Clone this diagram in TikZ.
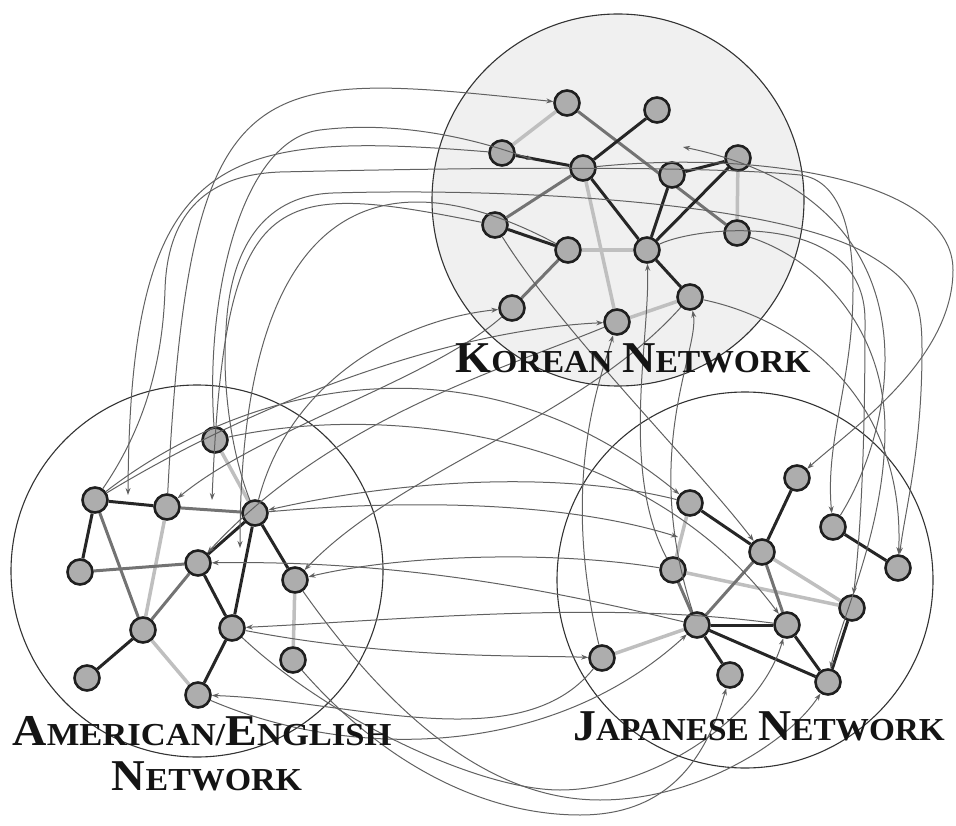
\documentclass[tikz,border=0pt]{standalone}
\usepackage{fontspec}
\setmainfont{Liberation Serif}
\usetikzlibrary{arrows.meta,backgrounds}
\newcommand{\bigini}[1]{{\fontsize{44}{44}\selectfont #1}}
\tikzset{
  nd/.style={circle, draw=black!88, line width=2.6pt, fill=black!32, minimum size=25pt, inner sep=0pt},
  dk/.style={line width=3pt, draw=black!85},
  md/.style={line width=3pt, draw=black!55},
  lt/.style={line width=3.5pt, draw=black!25},
  link/.style={line width=1pt, draw=black!62, -{Stealth[length=7pt,width=5pt]}},
  netc/.style={draw=black!80, line width=1.1pt},
  lab/.style={anchor=base, inner sep=0pt, text=black!92, font=\fontsize{32}{32}\selectfont\bfseries}
}
\begin{document}
\begin{tikzpicture}[x=1pt,y=-1pt]
\useasboundingbox (0,0) rectangle (956,826);
% ---------- Korean nodes
\node[nd] (k1) at (567,103) {};
\node[nd] (k2) at (657,110) {};
\node[nd] (k3) at (502,153) {};
\node[nd] (k4) at (583,168) {};
\node[nd] (k5) at (672,175) {};
\node[nd] (k6) at (738,158) {};
\node[nd] (k7) at (495,225) {};
\node[nd] (k8) at (568,250) {};
\node[nd] (k9) at (647,250) {};
\node[nd] (k10) at (737,233) {};
\node[nd] (k11) at (690,297) {};
\node[nd] (k12) at (512,308) {};
\node[nd] (k13) at (617,322) {};
% ---------- American nodes
\node[nd] (a1) at (215,440) {};
\node[nd] (a2) at (95,500) {};
\node[nd] (a3) at (167,507) {};
\node[nd] (a4) at (255,513) {};
\node[nd] (a5) at (80,572) {};
\node[nd] (a6) at (198,563) {};
\node[nd] (a7) at (295,580) {};
\node[nd] (a8) at (143,630) {};
\node[nd] (a9) at (232,628) {};
\node[nd] (a10) at (293,660) {};
\node[nd] (a11) at (87,678) {};
\node[nd] (a12) at (198,695) {};
% ---------- Japanese nodes
\node[nd] (j1) at (797,478) {};
\node[nd] (j2) at (690,503) {};
\node[nd] (j3) at (833,527) {};
\node[nd] (j4) at (762,552) {};
\node[nd] (j5) at (898,568) {};
\node[nd] (j6) at (673,570) {};
\node[nd] (j7) at (852,608) {};
\node[nd] (j8) at (697,625) {};
\node[nd] (j9) at (787,625) {};
\node[nd] (j10) at (602,658) {};
\node[nd] (j11) at (730,675) {};
\node[nd] (j12) at (828,682) {};
% ---------- arrow end points
\coordinate (t1) at (128,495);
\coordinate (t2) at (161,540);
\coordinate (t3) at (212,500);
\coordinate (t4) at (240,548);
\coordinate (t5) at (678,537);
\coordinate (t6) at (533,160);
\coordinate (t7) at (683,147);

\begin{scope}[on background layer]
  % network circles
  \node[circle, netc, fill=black!6, minimum size=372pt, inner sep=0pt] (kor) at (618,200) {};
  \node[circle, netc, minimum size=372pt, inner sep=0pt] (ame) at (197,571) {};
  \node[circle, netc, minimum size=376pt, inner sep=0pt] (jap) at (745,580) {};
  % Korean edges
  \draw[lt] (k3) -- (k1);
  \draw[lt] (k4) -- (k13);
  \draw[lt] (k8) -- (k9);
  \draw[lt] (k6) -- (k10);
  \draw[lt] (k13) -- (k11);
  \draw[md] (k1) -- (k10);
  \draw[md] (k4) -- (k7);
  \draw[md] (k8) -- (k12);
  \draw[dk] (k3) -- (k4);
  \draw[dk] (k4) -- (k2);
  \draw[dk] (k7) -- (k8);
  \draw[dk] (k9) -- (k5);
  \draw[dk] (k9) -- (k6);
  \draw[dk] (k5) -- (k6);
  \draw[dk] (k9) -- (k11);
  \draw[dk] (k4) -- (k9);
  % American edges
  \draw[lt] (a1) -- (a4);
  \draw[lt] (a3) -- (a8);
  \draw[lt] (a8) -- (a12);
  \draw[lt] (a7) -- (a10);
  \draw[md] (a3) -- (a4);
  \draw[md] (a5) -- (a6);
  \draw[md] (a2) -- (a8);
  \draw[md] (a6) -- (a8);
  \draw[dk] (a2) -- (a3);
  \draw[dk] (a2) -- (a5);
  \draw[dk] (a4) -- (a6);
  \draw[dk] (a4) -- (a7);
  \draw[dk] (a4) -- (a9);
  \draw[dk] (a6) -- (a9);
  \draw[dk] (a8) -- (a11);
  \draw[dk] (a9) -- (a12);
  % Japanese edges
  \draw[lt] (j4) -- (j7);
  \draw[lt] (j6) -- (j7);
  \draw[lt] (j2) -- (j6);
  \draw[lt] (j10) -- (j8);
  \draw[md] (j6) -- (j8);
  \draw[md] (j8) -- (j4);
  \draw[md] (j4) -- (j9);
  \draw[dk] (j2) -- (j4);
  \draw[dk] (j4) -- (j1);
  \draw[dk] (j3) -- (j5);
  \draw[dk] (j8) -- (j9);
  \draw[dk] (j8) -- (j11);
  \draw[dk] (j8) -- (j12);
  \draw[dk] (j9) -- (j12);
  \draw[dk] (j7) -- (j12);
\end{scope}

% ---------- links: Korean <-> American (left loops)
\draw[link] (k3) .. controls (220,130) and (130,150) .. (t1);
\draw[link] (a3) .. controls (190,60) and (250,70) .. (k1);
\draw[link] (k7) .. controls (270,180) and (225,185) .. (t3);
\draw[link] (k8) .. controls (380,150) and (240,200) .. (t4);
\draw[link] (a4) .. controls (290,380) and (400,320) .. (k12);
\draw[link] (a1) .. controls (205,300) and (240,140) .. (320,130) .. controls (400,120) and (480,140) .. (t6);
% long loops American -> Korea -> Japan
\draw[link] (a4) .. controls (230,450) and (222,380) .. (226,330) .. controls (230,240) and (270,195) .. (333,193) .. controls (500,188) and (760,200) .. (860,250) .. controls (915,280) and (922,300) .. (922,350) .. controls (922,450) and (905,510) .. (j5);
\draw[link] (a2) .. controls (150,420) and (163,350) .. (165,290) .. controls (167,220) and (200,175) .. (280,172) .. controls (450,168) and (700,165) .. (800,175) .. controls (840,180) and (853,230) .. (853,290) .. controls (853,380) and (825,440) .. (j3);
% Korean -> Japanese (right loops)
\draw[link] (k4) .. controls (760,150) and (953,180) .. (953,270) .. controls (953,360) and (850,430) .. (j1);
\draw[link] (k9) .. controls (700,225) and (865,210) .. (865,320) .. controls (865,430) and (862,520) .. (j7);
\draw[link] (k10) .. controls (820,260) and (885,330) .. (885,430) .. controls (885,530) and (840,620) .. (j12);
\draw[link] (k11) .. controls (800,320) and (905,400) .. (j5);
\draw[link] (j3) .. controls (900,420) and (940,200) .. (t7);
% American <-> Japanese (middle)
\draw[link] (j2) .. controls (560,470) and (400,480) .. (a4);
\draw[link] (a4) .. controls (400,500) and (560,500) .. (t5);
\draw[link] (j6) .. controls (550,550) and (400,555) .. (a7);
\draw[link] (j8) .. controls (550,590) and (400,560) .. (a6);
\draw[link] (a9) .. controls (400,660) and (530,655) .. (j10);
\draw[link] (j9) .. controls (600,600) and (400,620) .. (a9);
\draw[link] (a2) .. controls (250,380) and (480,330) .. (j2);
\draw[link] (a2) .. controls (260,400) and (450,330) .. (k13);
% bottom loops
\draw[link] (a10) .. controls (380,760) and (480,815) .. (580,815) .. controls (650,815) and (700,780) .. (j11);
\draw[link] (a7) .. controls (380,700) and (480,800) .. (600,800) .. controls (700,800) and (790,740) .. (j12);
\draw[link] (a9) .. controls (330,720) and (480,790) .. (560,790) .. controls (650,790) and (760,720) .. (j9);
\draw[link] (a12) .. controls (350,760) and (550,760) .. (j8);
\draw[link] (j10) .. controls (520,760) and (350,700) .. (a12);
% Japanese -> Korean (upward)
\draw[link] (j6) .. controls (620,470) and (650,340) .. (k9);
\draw[link] (j8) .. controls (640,450) and (700,350) .. (k11);
\draw[link] (j10) .. controls (560,480) and (600,380) .. (k13);
% Korean -> American (diagonal)
\draw[link] (k13) .. controls (500,370) and (330,420) .. (a6);
\draw[link] (k11) .. controls (580,420) and (400,470) .. (a7);
\draw[link] (k12) .. controls (430,380) and (260,430) .. (a3);
% across to Japanese
\draw[link] (k7) .. controls (560,330) and (700,470) .. (j4);
\draw[link] (a1) .. controls (400,400) and (650,440) .. (j9);

% ---------- labels
\node[lab] (klab) at (633,372) {\scalebox{1.05}[1]{\bigini{K}OREAN\hspace{9pt}\bigini{N}ETWORK}};
\node[lab] (alab1) at (202,745) {\scalebox{1.08}[1]{\bigini{A}MERICAN/\bigini{E}NGLISH}};
\node[lab] (alab2) at (207,790) {\scalebox{1.06}[1]{\bigini{N}ETWORK}};
\node[lab] (jlab) at (759,740) {\scalebox{1.04}[1]{\bigini{J}APANESE\hspace{9pt}\bigini{N}ETWORK}};
\end{tikzpicture}
\end{document}
